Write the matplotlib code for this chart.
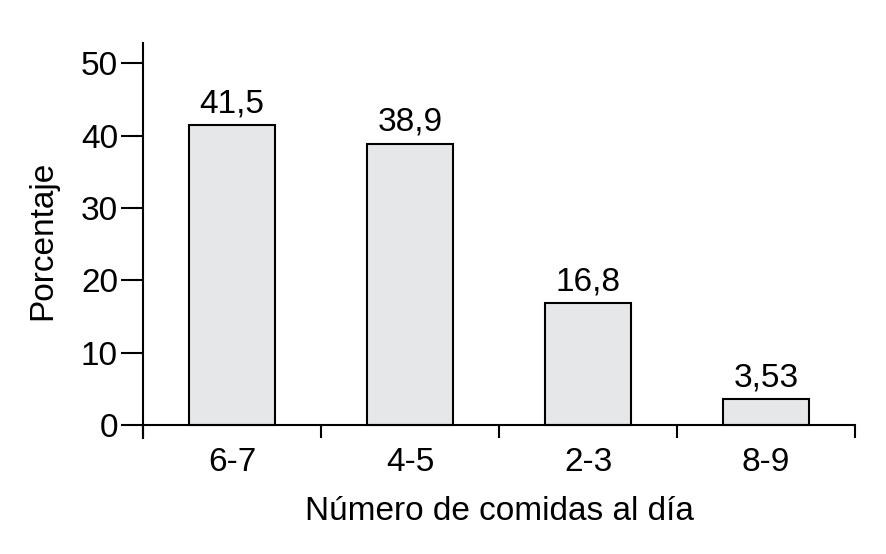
import matplotlib
matplotlib.use('Agg')
import matplotlib.pyplot as plt

# data
categorias = ['6-7', '4-5', '2-3', '8-9']
porcentajes = [41.5, 38.9, 16.8, 3.53]
etiquetas = ['41,5', '38,9', '16,8', '3,53']
yticks = [0, 10, 20, 30, 40, 50]

plt.rcParams['font.family'] = ['Liberation Sans', 'DejaVu Sans']
fs = 24

fig = plt.figure(figsize=(8.87, 5.54), dpi=100)
ax = fig.add_axes([0.1612, 0.2094, 0.8028, 0.713])

x = range(len(categorias))
bars = ax.bar(x, porcentajes, width=0.48, color='#e6e7e9',
              edgecolor='black', linewidth=1.5, zorder=2)

for b, t in zip(bars, etiquetas):
    ax.annotate(t, (b.get_x() + b.get_width() / 2, b.get_height()),
                xytext=(0, 4), textcoords='offset points',
                ha='center', va='bottom', fontsize=fs)

ax.set_xlim(-0.5, len(categorias) - 0.5)
ax.set_ylim(-1.8, 52.8)

ax.spines['top'].set_visible(False)
ax.spines['right'].set_visible(False)
ax.spines['bottom'].set_position(('data', 0))
ax.spines['bottom'].set_linewidth(1.5)
ax.spines['left'].set_linewidth(1.5)

ax.set_yticks(yticks)
ax.set_yticklabels([str(v) for v in yticks])
ax.tick_params(axis='y', length=16, width=1.5, pad=2, labelsize=fs)

ax.set_xticks(list(x))
ax.set_xticklabels(categorias)
ax.tick_params(axis='x', which='major', length=0, pad=16, labelsize=fs)
ax.set_xticks([i - 0.5 for i in range(len(categorias) + 1)], minor=True)
ax.tick_params(axis='x', which='minor', length=9, width=1.5, direction='out')

ax.set_xlabel('Número de comidas al día', fontsize=fs, labelpad=13)
ax.set_ylabel('Porcentaje', fontsize=fs, labelpad=16)

fig.savefig('out.png', dpi=100)
